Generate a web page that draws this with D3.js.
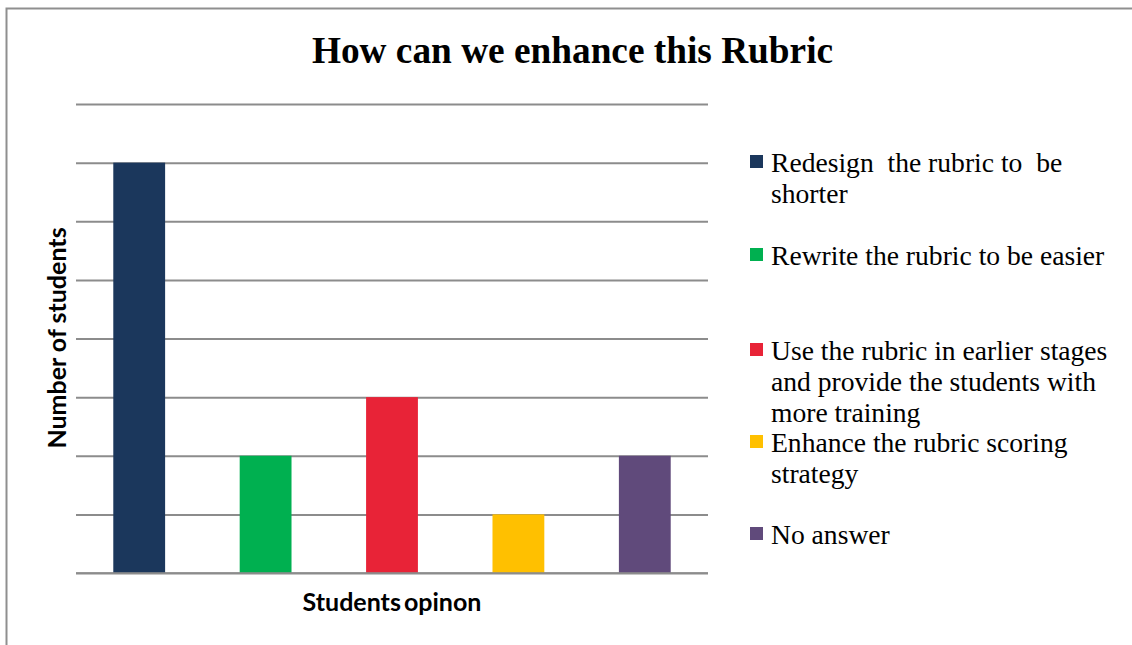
<!DOCTYPE html>
<html><head><meta charset="utf-8">
<script src="https://cdn.jsdelivr.net/npm/d3@7"></script>
<style>body{margin:0;background:#fff}svg{display:block}</style>
</head><body><svg id="c" width="1132" height="645"></svg>
<script>
const categories = ["Redesign  the rubric to  be shorter","Rewrite the rubric to be easier","Use the rubric in earlier stages and provide the students with more training","Enhance the rubric scoring strategy","No answer"];
const values = [7, 2, 3, 1, 2];
const colors = ["#1b375c","#00b050","#e82337","#ffc000","#604a7b"];
const legendLines = [["Redesign  the rubric to  be","shorter"],["Rewrite the rubric to be easier"],["Use the rubric in earlier stages","and provide the students with","more training"],["Enhance the rubric scoring","strategy"],["No answer"]];
const legendY = [172, 265, 360, 452, 544];
const yTicks = [0,1,2,3,4,5,6,7,8];
const title = "How can we enhance this Rubric";
const yLabel = "Number of students";
const xLabel = "Students opinon";

const svg = d3.select("#c");
svg.append("rect").attr("x",6.5).attr("y",8.5).attr("width",1140).attr("height",650)
  .attr("fill","#fff").attr("stroke","#8f8f8f").attr("stroke-width",2);

const L=76,R=708,T=104,B=573;
const x = d3.scaleBand().domain(d3.range(values.length)).range([L,R]).paddingInner(0.59).paddingOuter(0.295);
const y = d3.scaleLinear().domain([0,8]).range([B,T]);

const grid = svg.append("g").attr("transform",`translate(${L},0)`)
  .call(d3.axisLeft(y).tickValues(yTicks).tickSize(-(R-L)).tickFormat(""));
grid.select(".domain").remove();
grid.selectAll(".tick line").attr("stroke","#8c8c8c").attr("stroke-width",2);

svg.append("g").selectAll("rect").data(values).join("rect")
  .attr("x",(d,i)=>x(i)).attr("width",x.bandwidth())
  .attr("y",d=>y(d)).attr("height",d=>B-y(d))
  .attr("fill",(d,i)=>colors[i]);

svg.append("line").attr("x1",L).attr("x2",R).attr("y1",B).attr("y2",B)
  .attr("stroke","#8c8c8c").attr("stroke-width",2).attr("opacity",0.8);

svg.append("text").attr("x",572.5).attr("y",63).attr("text-anchor","middle")
  .attr("font-family","'Liberation Serif','Times New Roman',serif").attr("font-weight","bold")
  .attr("font-size",37.3).text(title);

svg.append("text").attr("transform","translate(66,338) rotate(-90)").attr("text-anchor","middle")
  .attr("font-family","Lato,'Open Sans',sans-serif").attr("font-weight","bold")
  .attr("font-size",25).text(yLabel);

svg.append("text").attr("x",392).attr("y",611).attr("text-anchor","middle")
  .attr("font-family","Lato,'Open Sans',sans-serif").attr("font-weight","bold")
  .attr("font-size",25).attr("word-spacing",-3).text(xLabel);

const lg = svg.append("g");
legendLines.forEach((lines,i)=>{
  lg.append("rect").attr("x",750).attr("y",legendY[i]-17).attr("width",13).attr("height",13).attr("fill",colors[i]);
  const t = lg.append("text").attr("font-family","'Liberation Serif','Times New Roman',serif")
    .attr("font-size",27.6).attr("fill","#000").style("white-space","pre");
  lines.forEach((ln,j)=>{
    t.append("tspan").attr("x",771).attr("y",legendY[i]+j*31).text(ln);
  });
});
</script></body></html>
